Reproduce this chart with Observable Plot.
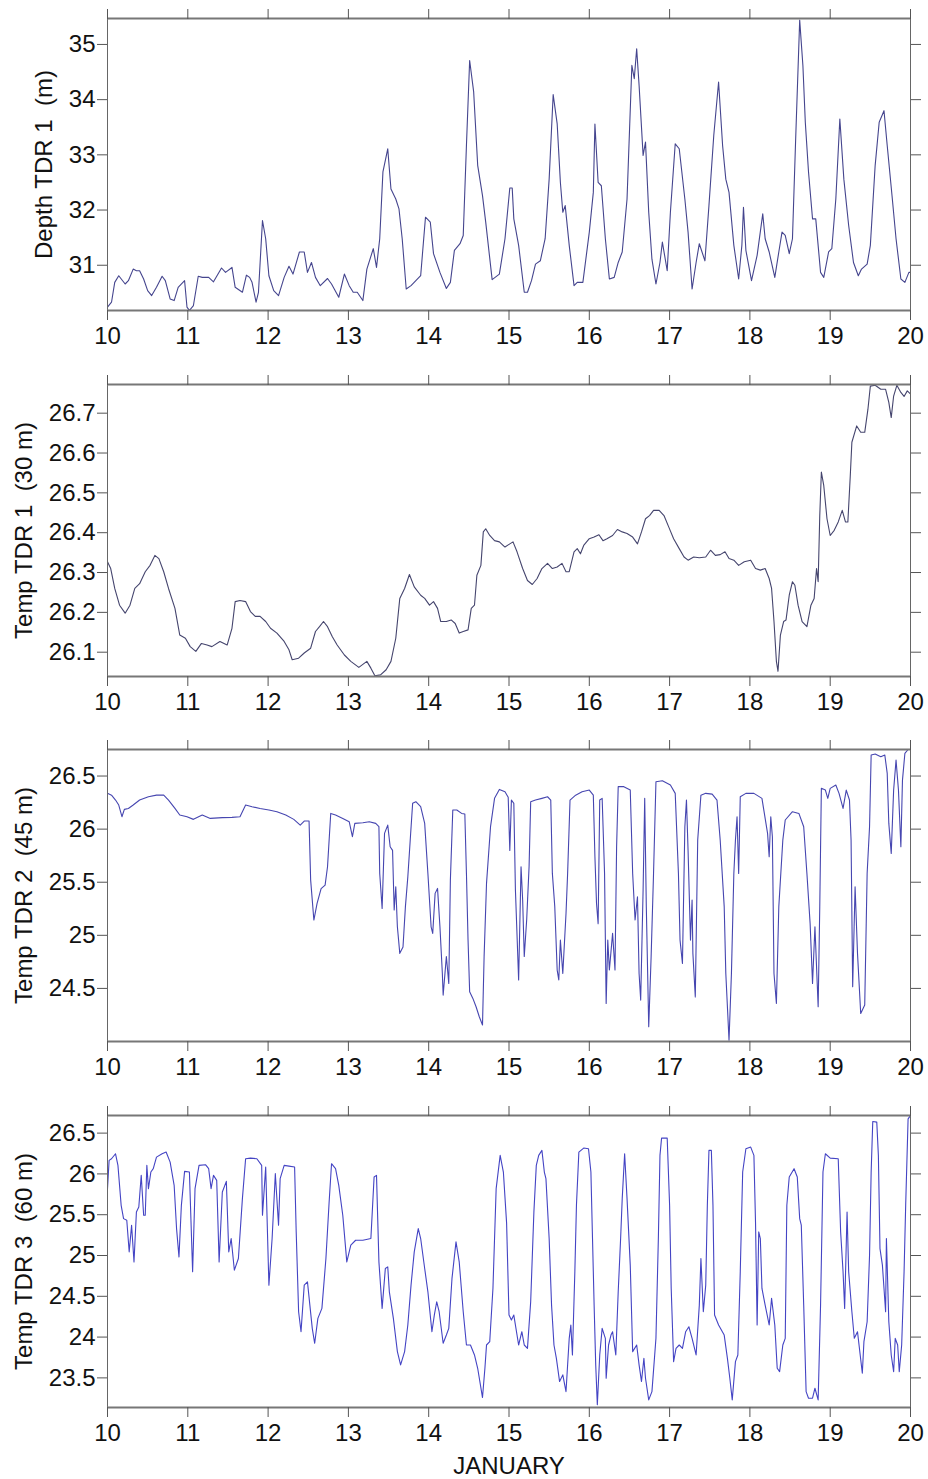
<!DOCTYPE html>
<html>
<head>
<meta charset="utf-8">
<script src="https://cdn.jsdelivr.net/npm/d3@7"></script>
<script src="https://cdn.jsdelivr.net/npm/@observablehq/plot@0.6"></script>
<style>
  html, body { margin: 0; padding: 0; background: #ffffff; }
  #chart svg { display: block; }
</style>
</head>
<body>
<div id="chart"></div>
<script>
// ---- data (day of January, value) ----
const dayTicks = [10, 11, 12, 13, 14, 15, 16, 17, 18, 19, 20];
const xLabel = "JANUARY";

const depthLabel = "Depth TDR 1  (m)";
const depthTicks = [31, 32, 33, 34, 35];
const depth1 = [
[10.00,30.24],[10.05,30.33],[10.09,30.69],[10.14,30.81],[10.22,30.66],[10.26,30.72],[10.32,30.93],[10.36,30.90],[10.40,30.90],[10.45,30.75],
[10.50,30.54],[10.55,30.45],[10.61,30.60],[10.68,30.80],[10.72,30.72],[10.78,30.39],[10.83,30.36],[10.88,30.60],[10.96,30.72],[10.99,30.24],
[11.02,30.18],[11.07,30.27],[11.13,30.80],[11.18,30.78],[11.26,30.78],[11.32,30.70],[11.42,30.95],[11.47,30.87],[11.55,30.96],[11.59,30.60],
[11.68,30.51],[11.73,30.82],[11.77,30.78],[11.80,30.69],[11.85,30.33],[11.88,30.51],[11.93,31.81],[11.97,31.48],[12.01,30.81],[12.07,30.54],
[12.13,30.45],[12.20,30.78],[12.26,30.98],[12.31,30.84],[12.39,31.24],[12.45,31.24],[12.49,30.87],[12.54,31.05],[12.59,30.78],[12.65,30.63],
[12.74,30.76],[12.79,30.66],[12.88,30.42],[12.95,30.84],[13.01,30.63],[13.06,30.51],[13.11,30.51],[13.18,30.36],[13.23,30.93],[13.31,31.30],
[13.35,30.96],[13.39,31.48],[13.43,32.69],[13.49,33.11],[13.53,32.38],[13.59,32.20],[13.63,32.02],[13.67,31.48],[13.72,30.57],[13.78,30.63],
[13.84,30.72],[13.90,30.81],[13.96,31.87],[14.02,31.78],[14.06,31.21],[14.14,30.87],[14.22,30.58],[14.27,30.69],[14.32,31.27],[14.39,31.39],
[14.43,31.54],[14.47,33.17],[14.51,34.71],[14.56,34.14],[14.61,32.81],[14.67,32.26],[14.71,31.78],[14.79,30.74],[14.88,30.84],[14.95,31.48],
[15.01,32.40],[15.04,32.40],[15.06,31.84],[15.12,31.36],[15.19,30.51],[15.23,30.51],[15.28,30.72],[15.33,31.02],[15.39,31.08],[15.45,31.48],
[15.50,32.56],[15.55,34.09],[15.60,33.56],[15.64,32.50],[15.67,31.96],[15.70,32.08],[15.75,31.36],[15.81,30.63],[15.85,30.69],[15.92,30.69],
[16.00,31.60],[16.05,32.32],[16.07,33.56],[16.11,32.50],[16.15,32.44],[16.20,31.48],[16.25,30.75],[16.31,30.78],[16.36,31.05],[16.41,31.24],
[16.47,32.20],[16.53,34.62],[16.56,34.38],[16.59,34.92],[16.62,34.26],[16.67,32.99],[16.70,33.23],[16.74,31.96],[16.78,31.11],[16.83,30.66],
[16.88,31.05],[16.91,31.42],[16.97,30.90],[17.01,31.96],[17.07,33.20],[17.12,33.11],[17.19,32.20],[17.23,31.60],[17.28,30.57],[17.33,31.05],
[17.37,31.39],[17.44,31.08],[17.49,32.08],[17.55,33.35],[17.61,34.32],[17.66,33.17],[17.70,32.56],[17.74,32.32],[17.80,31.36],[17.86,30.75],
[17.90,31.36],[17.92,32.05],[17.95,31.27],[18.02,30.72],[18.09,31.18],[18.16,31.93],[18.19,31.48],[18.24,31.24],[18.31,30.78],[18.36,31.24],
[18.40,31.60],[18.44,31.54],[18.49,31.21],[18.53,31.48],[18.57,33.29],[18.62,35.44],[18.66,34.62],[18.69,33.59],[18.73,32.69],[18.78,31.84],
[18.82,31.84],[18.88,30.87],[18.92,30.78],[18.98,31.24],[19.02,31.30],[19.07,32.20],[19.12,33.65],[19.17,32.56],[19.23,31.72],[19.29,31.05],
[19.35,30.81],[19.39,30.93],[19.46,31.02],[19.50,31.36],[19.56,32.81],[19.61,33.59],[19.67,33.80],[19.71,33.17],[19.77,32.26],[19.82,31.48],
[19.88,30.75],[19.93,30.69],[19.98,30.87],[20.00,30.87]
];

const temp1Label = "Temp TDR 1  (30 m)";
const temp1Ticks = [26.1, 26.2, 26.3, 26.4, 26.5, 26.6, 26.7];
const temp1 = [
[10.00,26.327],[10.04,26.310],[10.09,26.260],[10.15,26.218],[10.22,26.198],[10.28,26.218],[10.34,26.260],[10.40,26.272],[10.47,26.302],[10.53,26.318],
[10.59,26.343],[10.64,26.335],[10.70,26.302],[10.76,26.260],[10.84,26.210],[10.90,26.143],[10.97,26.135],[11.03,26.114],[11.10,26.102],[11.17,26.122],
[11.24,26.118],[11.30,26.114],[11.40,26.127],[11.49,26.118],[11.55,26.160],[11.59,26.227],[11.65,26.230],[11.72,26.227],[11.78,26.202],[11.84,26.190],
[11.90,26.190],[11.97,26.177],[12.03,26.160],[12.11,26.148],[12.20,26.127],[12.26,26.106],[12.30,26.081],[12.38,26.085],[12.45,26.098],[12.53,26.110],
[12.59,26.152],[12.64,26.164],[12.69,26.177],[12.74,26.164],[12.80,26.139],[12.86,26.118],[12.95,26.093],[13.03,26.077],[13.13,26.062],[13.23,26.077],
[13.28,26.060],[13.33,26.041],[13.40,26.043],[13.47,26.056],[13.53,26.077],[13.59,26.135],[13.64,26.235],[13.70,26.260],[13.76,26.295],[13.82,26.264],
[13.90,26.243],[13.95,26.235],[14.01,26.218],[14.06,26.227],[14.11,26.210],[14.15,26.177],[14.22,26.177],[14.28,26.181],[14.33,26.172],[14.38,26.148],
[14.43,26.152],[14.49,26.156],[14.53,26.210],[14.57,26.218],[14.60,26.293],[14.65,26.318],[14.68,26.402],[14.71,26.410],[14.76,26.393],[14.82,26.380],
[14.88,26.377],[14.95,26.364],[15.01,26.372],[15.05,26.377],[15.10,26.352],[15.17,26.310],[15.23,26.280],[15.29,26.270],[15.35,26.285],[15.41,26.310],
[15.48,26.323],[15.54,26.310],[15.60,26.314],[15.66,26.323],[15.71,26.302],[15.75,26.302],[15.81,26.352],[15.85,26.360],[15.89,26.347],[15.93,26.368],
[16.00,26.385],[16.06,26.389],[16.12,26.395],[16.17,26.380],[16.22,26.385],[16.29,26.393],[16.35,26.408],[16.41,26.402],[16.47,26.398],[16.54,26.389],
[16.60,26.372],[16.65,26.402],[16.70,26.435],[16.75,26.443],[16.80,26.456],[16.87,26.456],[16.93,26.443],[16.99,26.414],[17.05,26.385],[17.12,26.360],
[17.18,26.339],[17.23,26.331],[17.30,26.339],[17.37,26.337],[17.45,26.339],[17.51,26.356],[17.57,26.343],[17.63,26.345],[17.69,26.352],[17.74,26.335],
[17.80,26.331],[17.86,26.318],[17.93,26.327],[18.01,26.331],[18.07,26.310],[18.13,26.306],[18.19,26.310],[18.24,26.285],[18.27,26.260],[18.30,26.177],
[18.33,26.077],[18.35,26.052],[18.38,26.143],[18.42,26.177],[18.45,26.181],[18.49,26.243],[18.53,26.277],[18.56,26.268],[18.60,26.218],[18.65,26.177],
[18.71,26.164],[18.76,26.218],[18.80,26.235],[18.83,26.310],[18.85,26.277],[18.87,26.443],[18.89,26.552],[18.92,26.518],[18.96,26.435],[19.00,26.393],
[19.05,26.406],[19.10,26.427],[19.15,26.456],[19.19,26.427],[19.22,26.427],[19.25,26.543],[19.27,26.627],[19.33,26.668],[19.38,26.652],[19.43,26.652],
[19.47,26.710],[19.50,26.768],[19.56,26.770],[19.63,26.760],[19.69,26.760],[19.73,26.727],[19.76,26.689],[19.79,26.743],[19.83,26.770],[19.88,26.752],
[19.92,26.742],[19.96,26.756],[20.00,26.748]
];

const temp2Label = "Temp TDR 2  (45 m)";
const temp2Ticks = [24.5, 25, 25.5, 26, 26.5];
const temp2 = [
[10.00,26.337],[10.05,26.320],[10.10,26.274],[10.14,26.227],[10.18,26.117],[10.21,26.186],[10.26,26.195],[10.32,26.227],[10.40,26.274],[10.51,26.305],
[10.61,26.320],[10.70,26.320],[10.76,26.274],[10.84,26.195],[10.90,26.133],[10.99,26.117],[11.07,26.092],[11.18,26.133],[11.28,26.101],[11.43,26.108],
[11.55,26.111],[11.65,26.117],[11.72,26.227],[11.80,26.211],[11.90,26.195],[12.01,26.180],[12.11,26.164],[12.22,26.133],[12.32,26.092],[12.40,26.038],
[12.45,26.076],[12.51,26.076],[12.53,25.520],[12.57,25.144],[12.61,25.300],[12.66,25.440],[12.71,25.473],[12.74,25.646],[12.78,26.148],[12.84,26.133],
[12.93,26.101],[13.01,26.070],[13.05,25.929],[13.08,26.054],[13.18,26.060],[13.26,26.070],[13.34,26.054],[13.38,26.023],[13.39,25.583],[13.42,25.253],
[13.45,25.960],[13.49,26.038],[13.52,25.834],[13.55,25.800],[13.57,25.238],[13.59,25.458],[13.61,25.080],[13.64,24.830],[13.68,24.890],[13.71,25.270],
[13.74,25.550],[13.77,25.897],[13.80,26.243],[13.84,26.258],[13.90,26.211],[13.95,26.054],[13.99,25.583],[14.03,25.080],[14.05,25.018],[14.08,25.395],
[14.11,25.442],[14.14,25.080],[14.17,24.640],[14.18,24.437],[14.22,24.800],[14.25,24.547],[14.27,25.520],[14.30,26.180],[14.35,26.180],[14.41,26.148],
[14.45,26.142],[14.47,25.583],[14.49,24.955],[14.51,24.469],[14.55,24.406],[14.59,24.327],[14.63,24.233],[14.67,24.155],[14.69,24.800],[14.72,25.489],
[14.77,26.023],[14.82,26.290],[14.88,26.374],[14.95,26.352],[14.99,26.300],[15.01,25.800],[15.03,26.274],[15.06,26.243],[15.08,25.426],[15.12,24.580],
[15.15,25.646],[15.17,25.332],[15.19,24.800],[15.22,25.144],[15.25,25.646],[15.27,26.258],[15.33,26.274],[15.41,26.290],[15.48,26.305],[15.52,26.274],
[15.54,25.583],[15.57,25.270],[15.60,24.673],[15.62,24.580],[15.64,24.955],[15.67,24.640],[15.71,25.206],[15.73,25.583],[15.76,26.274],[15.83,26.320],
[15.91,26.352],[16.00,26.368],[16.05,26.320],[16.07,25.740],[16.09,25.300],[16.11,25.110],[16.13,26.274],[16.16,26.290],[16.19,25.583],[16.21,24.359],
[16.23,24.955],[16.25,24.673],[16.29,25.018],[16.32,24.673],[16.34,25.834],[16.36,26.400],[16.43,26.400],[16.51,26.368],[16.54,25.583],[16.57,25.144],
[16.60,25.363],[16.62,24.640],[16.64,24.390],[16.67,25.426],[16.69,26.290],[16.71,25.270],[16.74,24.139],[16.77,24.800],[16.80,25.583],[16.83,26.447],
[16.91,26.456],[17.01,26.415],[17.07,26.337],[17.11,25.583],[17.13,24.955],[17.16,24.735],[17.19,26.023],[17.21,26.274],[17.23,25.800],[17.26,24.955],
[17.28,25.332],[17.29,24.830],[17.32,24.420],[17.35,25.897],[17.39,26.320],[17.45,26.337],[17.53,26.330],[17.59,26.274],[17.63,25.897],[17.68,25.270],
[17.70,24.640],[17.74,24.013],[17.77,24.640],[17.80,25.583],[17.82,25.897],[17.84,26.117],[17.86,25.583],[17.88,26.305],[17.95,26.337],[18.05,26.337],
[18.15,26.290],[18.22,25.960],[18.24,25.740],[18.26,26.117],[18.28,25.929],[18.30,24.640],[18.33,24.359],[18.36,25.270],[18.41,25.897],[18.44,26.086],
[18.53,26.164],[18.61,26.148],[18.67,26.023],[18.71,25.583],[18.75,25.110],[18.78,24.547],[18.81,25.080],[18.85,24.327],[18.87,25.270],[18.89,26.384],
[18.94,26.368],[18.97,26.290],[19.00,26.384],[19.07,26.415],[19.11,26.337],[19.16,26.195],[19.20,26.368],[19.24,26.274],[19.26,25.897],[19.28,24.516],
[19.31,25.458],[19.34,24.830],[19.38,24.264],[19.43,24.343],[19.46,25.583],[19.49,26.023],[19.51,26.698],[19.56,26.707],[19.63,26.682],[19.68,26.698],
[19.71,26.525],[19.73,26.054],[19.76,25.770],[19.79,26.368],[19.82,26.650],[19.85,26.368],[19.88,25.834],[19.90,26.462],[19.93,26.713],[19.97,26.750],
[20.00,26.750]
];

const temp3Label = "Temp TDR 3  (60 m)";
const temp3Ticks = [23.5, 24, 24.5, 25, 25.5, 26, 26.5];
const temp3 = [
[10.00,25.819],[10.02,26.166],[10.05,26.186],[10.10,26.247],[10.13,26.105],[10.17,25.615],[10.20,25.452],[10.24,25.432],[10.27,25.045],[10.30,25.371],
[10.33,24.922],[10.36,25.534],[10.39,25.595],[10.42,25.982],[10.45,25.493],[10.47,25.493],[10.49,26.105],[10.51,25.819],[10.54,26.023],[10.57,26.064],
[10.61,26.206],[10.68,26.247],[10.73,26.268],[10.78,26.145],[10.83,25.860],[10.86,25.330],[10.89,24.983],[10.92,25.615],[10.96,26.031],[11.02,26.023],
[11.06,24.800],[11.09,25.819],[11.14,26.105],[11.22,26.113],[11.26,26.064],[11.29,25.819],[11.32,25.982],[11.36,25.921],[11.39,24.922],[11.43,25.778],
[11.48,25.909],[11.51,25.045],[11.54,25.208],[11.58,24.820],[11.63,24.963],[11.68,25.697],[11.72,26.186],[11.78,26.194],[11.86,26.186],[11.92,26.105],
[11.93,25.493],[11.97,26.084],[12.01,24.637],[12.05,25.208],[12.09,26.003],[12.13,25.371],[12.15,25.942],[12.20,26.105],[12.26,26.096],[12.33,26.084],
[12.35,25.289],[12.38,24.311],[12.41,24.066],[12.45,24.637],[12.49,24.678],[12.52,24.392],[12.55,24.107],[12.58,23.924],[12.62,24.229],[12.67,24.352],
[12.72,24.963],[12.76,25.656],[12.79,26.125],[12.84,26.064],[12.88,25.860],[12.93,25.493],[12.98,24.922],[13.03,25.126],[13.09,25.187],[13.18,25.187],
[13.28,25.208],[13.32,25.962],[13.35,25.982],[13.38,24.922],[13.42,24.352],[13.46,24.841],[13.49,24.861],[13.51,24.555],[13.56,24.229],[13.61,23.822],
[13.65,23.659],[13.70,23.822],[13.74,24.148],[13.78,24.637],[13.82,25.045],[13.87,25.330],[13.90,25.208],[13.95,24.841],[13.99,24.555],[14.04,24.066],
[14.07,24.270],[14.10,24.433],[14.13,24.311],[14.18,23.924],[14.22,24.025],[14.25,24.107],[14.29,24.719],[14.34,25.167],[14.38,24.922],[14.43,24.311],
[14.47,23.903],[14.52,23.903],[14.57,23.781],[14.61,23.618],[14.67,23.259],[14.70,23.618],[14.72,23.903],[14.76,23.944],[14.80,24.596],[14.84,25.819],
[14.89,26.227],[14.93,26.023],[14.97,25.400],[15.00,24.270],[15.03,24.209],[15.06,24.270],[15.12,23.903],[15.16,24.066],[15.19,23.903],[15.23,23.862],
[15.27,24.433],[15.31,25.534],[15.34,26.105],[15.37,26.227],[15.41,26.288],[15.44,26.023],[15.46,25.942],[15.50,25.208],[15.53,24.392],[15.56,23.903],
[15.59,23.740],[15.63,23.455],[15.67,23.537],[15.71,23.332],[15.75,23.985],[15.77,24.148],[15.79,23.781],[15.82,24.800],[15.84,25.615],[15.87,26.268],
[15.93,26.317],[15.99,26.308],[16.02,26.023],[16.04,25.208],[16.06,24.392],[16.08,23.659],[16.10,23.170],[16.13,23.781],[16.16,24.107],[16.20,23.985],
[16.21,23.496],[16.24,23.903],[16.27,24.025],[16.29,24.066],[16.33,23.781],[16.36,24.555],[16.39,25.208],[16.41,25.697],[16.44,26.247],[16.47,25.697],
[16.51,24.882],[16.54,23.822],[16.59,23.903],[16.62,23.659],[16.65,23.455],[16.68,23.740],[16.70,23.496],[16.74,23.230],[16.78,23.332],[16.83,23.985],
[16.86,25.208],[16.88,26.227],[16.90,26.439],[16.97,26.439],[17.00,25.615],[17.02,24.596],[17.05,23.699],[17.08,23.862],[17.12,23.903],[17.16,23.862],
[17.20,24.066],[17.24,24.127],[17.28,23.985],[17.33,23.781],[17.37,24.392],[17.39,24.963],[17.42,24.311],[17.45,24.637],[17.47,25.615],[17.49,26.288],
[17.52,26.288],[17.54,25.615],[17.56,24.270],[17.61,24.148],[17.68,24.025],[17.72,23.740],[17.75,23.496],[17.78,23.230],[17.82,23.699],[17.85,23.781],
[17.88,24.800],[17.91,26.023],[17.95,26.308],[18.01,26.329],[18.05,26.227],[18.07,25.412],[18.09,24.148],[18.11,25.289],[18.13,25.208],[18.15,24.596],
[18.19,24.392],[18.24,24.148],[18.27,24.474],[18.31,24.148],[18.34,23.618],[18.37,23.577],[18.41,23.903],[18.44,23.985],[18.46,25.615],[18.49,25.962],
[18.55,26.064],[18.59,25.962],[18.62,25.452],[18.64,25.371],[18.67,24.392],[18.70,23.332],[18.73,23.251],[18.78,23.251],[18.81,23.373],[18.85,23.230],
[18.88,24.392],[18.91,26.023],[18.94,26.247],[19.00,26.194],[19.10,26.186],[19.13,25.289],[19.16,24.800],[19.18,24.352],[19.21,25.534],[19.23,24.800],
[19.27,24.311],[19.30,23.985],[19.34,24.066],[19.40,23.557],[19.42,23.944],[19.46,24.188],[19.49,25.004],[19.51,26.023],[19.53,26.643],[19.58,26.635],
[19.60,26.227],[19.62,25.085],[19.65,24.882],[19.69,24.311],[19.70,25.208],[19.73,24.188],[19.76,23.781],[19.79,23.577],[19.81,23.985],[19.84,23.903],
[19.86,23.577],[19.89,23.903],[19.92,24.800],[19.94,25.615],[19.97,26.675],[20.00,26.716]
];

// ---- drawing ----
const fmt = d => String(d);
const font = "'Liberation Sans', Arial, Helvetica, sans-serif";

function panel({data, domain, ticks, label, labelOffset, color, marginBottom, bottomLabel}) {
  const top = 18, inner = 292;
  return Plot.plot({
    width: 928,
    height: top + inner + marginBottom,
    marginLeft: 107,
    marginRight: 18,
    marginTop: top,
    marginBottom,
    style: {fontFamily: font, fontSize: "24px", background: "#ffffff", color: "#111", overflow: "visible"},
    x: {domain: [10, 20]},
    y: {domain},
    marks: [
      Plot.line(data, {x: d => d[0], y: d => d[1], stroke: color, strokeWidth: 1.1, clip: true}),
      Plot.frame({stroke: "#666", strokeWidth: 1}),
      Plot.ruleY(domain, {stroke: "#777", strokeWidth: 2}),
      Plot.axisX({anchor: "bottom", ticks: dayTicks, tickSize: 10, tickPadding: 6, tickFormat: fmt, stroke: "#555",
                  label: bottomLabel ?? null, labelAnchor: "center", labelArrow: "none", labelOffset: 66}),
      Plot.axisX({anchor: "top", ticks: dayTicks, tickSize: 10, tickFormat: () => "", stroke: "#555", label: null}),
      Plot.axisY({anchor: "left", ticks, tickSize: 10, tickPadding: 2, tickFormat: fmt, stroke: "#555",
                  label, labelAnchor: "center", labelArrow: "none", labelOffset}),
      Plot.axisY({anchor: "right", ticks, tickSize: 10, tickFormat: () => "", stroke: "#555", label: null})
    ]
  });
}

const chart = document.getElementById("chart");
chart.append(panel({data: depth1, domain: [30.18, 35.47], ticks: depthTicks, label: depthLabel, labelOffset: 73, color: "#45458e", marginBottom: 56}));
chart.append(panel({data: temp1, domain: [26.039, 26.772], ticks: temp1Ticks, label: temp1Label, labelOffset: 93, color: "#45456e", marginBottom: 55}));
chart.append(panel({data: temp2, domain: [24.0, 26.75], ticks: temp2Ticks, label: temp2Label, labelOffset: 93, color: "#4646b0", marginBottom: 56}));
chart.append(panel({data: temp3, domain: [23.137, 26.716], ticks: temp3Ticks, label: temp3Label, labelOffset: 93, color: "#4444c4", marginBottom: 72, bottomLabel: xLabel}));
</script>
</body>
</html>
